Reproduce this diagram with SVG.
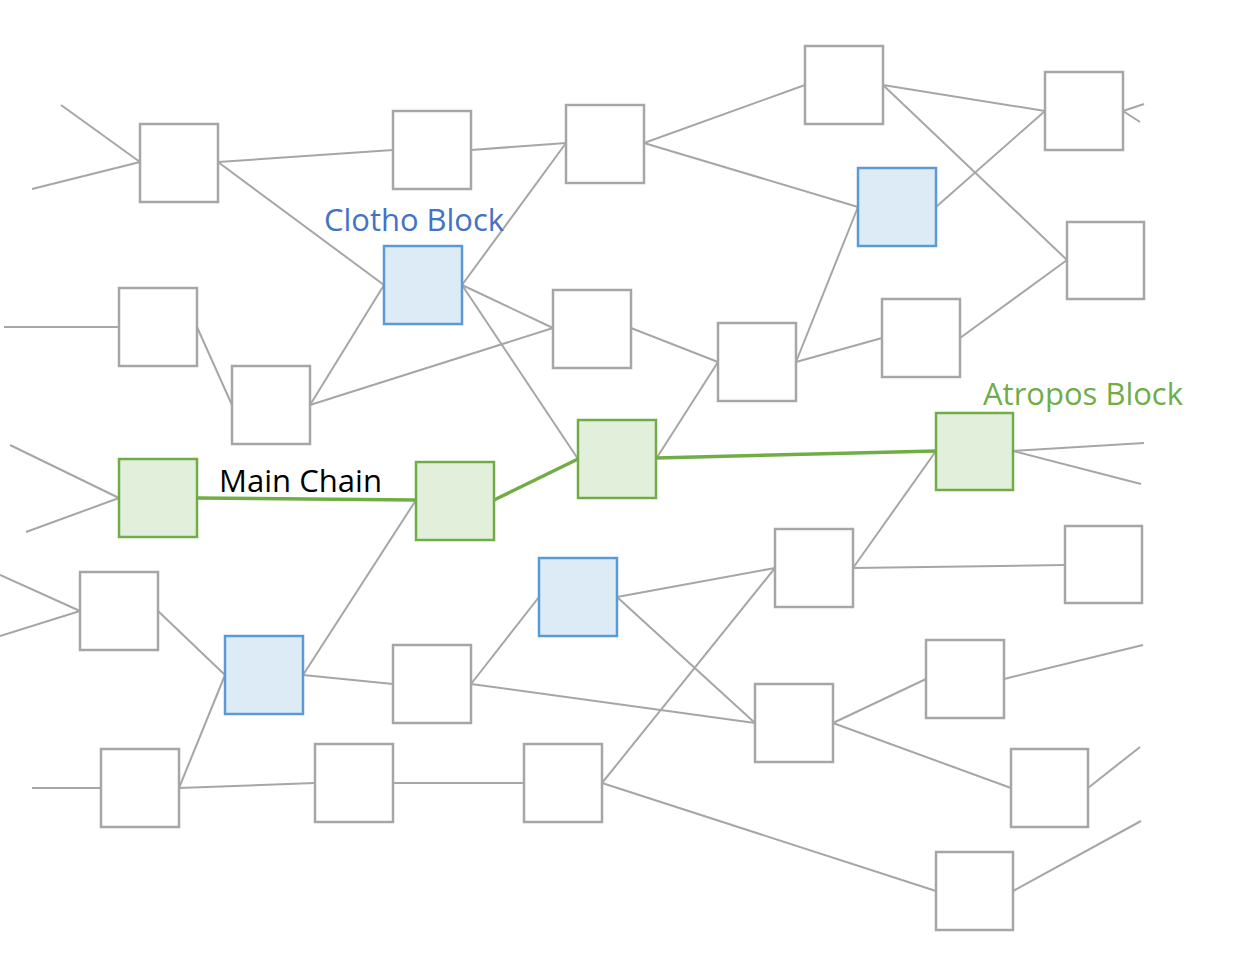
<svg xmlns="http://www.w3.org/2000/svg" width="1246" height="980" viewBox="0 0 1246 980">
<style>
.n rect{fill:#fff;stroke:#A6A6A6;stroke-width:2.5}
.b rect{fill:#DDEBF7;stroke:#5B9BD5;stroke-width:2.5}
.g rect{fill:#E2EFDA;stroke:#70AD47;stroke-width:2.5}
.e line{stroke:#A6A6A6;stroke-width:2}
.m line{stroke:#70AD47;stroke-width:3.5}
text{font-family:"Open Sans","Noto Sans","DejaVu Sans",sans-serif;font-size:31px}
</style>
<rect width="1246" height="980" fill="#fff"/>
<g id="edges" class="e">
<line x1="61" y1="105" x2="140" y2="162"/>
<line x1="32" y1="189" x2="140" y2="162"/>
<line x1="218" y1="162" x2="393" y2="150"/>
<line x1="471" y1="150" x2="566" y2="143"/>
<line x1="218" y1="162" x2="384" y2="285"/>
<line x1="644" y1="143" x2="805" y2="85"/>
<line x1="644" y1="143" x2="858" y2="207"/>
<line x1="883" y1="85" x2="1045" y2="111"/>
<line x1="883" y1="85" x2="1067" y2="260"/>
<line x1="936" y1="207" x2="1045" y2="111"/>
<line x1="1123" y1="111" x2="1144" y2="104"/>
<line x1="1123" y1="111" x2="1140" y2="122"/>
<line x1="462" y1="285" x2="566" y2="143"/>
<line x1="462" y1="285" x2="553" y2="328"/>
<line x1="462" y1="285" x2="578" y2="459"/>
<line x1="310" y1="405" x2="384" y2="285"/>
<line x1="310" y1="405" x2="553" y2="328"/>
<line x1="197" y1="327" x2="232" y2="405"/>
<line x1="4" y1="327" x2="119" y2="327"/>
<line x1="631" y1="328" x2="718" y2="362"/>
<line x1="796" y1="362" x2="858" y2="207"/>
<line x1="796" y1="362" x2="882" y2="338"/>
<line x1="960" y1="338" x2="1067" y2="260"/>
<line x1="656" y1="459" x2="718" y2="362"/>
<line x1="10" y1="445" x2="119" y2="498"/>
<line x1="26" y1="532" x2="119" y2="498"/>
<line x1="1013" y1="451" x2="1144" y2="443"/>
<line x1="1013" y1="451" x2="1141" y2="484"/>
<line x1="853" y1="568" x2="936" y2="451"/>
<line x1="853" y1="568" x2="1065" y2="565"/>
<line x1="416" y1="500" x2="303" y2="675"/>
<line x1="0" y1="575" x2="80" y2="611"/>
<line x1="0" y1="636" x2="80" y2="611"/>
<line x1="158" y1="611" x2="225" y2="675"/>
<line x1="303" y1="675" x2="393" y2="684"/>
<line x1="225" y1="675" x2="179" y2="788"/>
<line x1="32" y1="788" x2="101" y2="788"/>
<line x1="179" y1="788" x2="315" y2="783"/>
<line x1="393" y1="783" x2="524" y2="783"/>
<line x1="471" y1="684" x2="539" y2="597"/>
<line x1="471" y1="684" x2="755" y2="723"/>
<line x1="617" y1="597" x2="775" y2="568"/>
<line x1="617" y1="597" x2="755" y2="723"/>
<line x1="602" y1="783" x2="775" y2="568"/>
<line x1="602" y1="783" x2="936" y2="891"/>
<line x1="833" y1="723" x2="926" y2="679"/>
<line x1="833" y1="723" x2="1011" y2="788"/>
<line x1="1004" y1="679" x2="1143" y2="645"/>
<line x1="1088" y1="788" x2="1140" y2="747"/>
<line x1="1013" y1="891" x2="1141" y2="821"/>
</g>
<g id="mainchain" class="m">
<line x1="197" y1="498" x2="416" y2="500"/>
<line x1="494" y1="500" x2="578" y2="459"/>
<line x1="656" y1="458" x2="936" y2="451"/>
</g>
<g id="n1" class="n"><rect x="140" y="124" width="78" height="78"/></g>
<g id="n2" class="n"><rect x="393" y="111" width="78" height="78"/></g>
<g id="n3" class="n"><rect x="566" y="105" width="78" height="78"/></g>
<g id="n4" class="n"><rect x="805" y="46" width="78" height="78"/></g>
<g id="n5" class="n"><rect x="1045" y="72" width="78" height="78"/></g>
<g id="n6" class="b"><rect x="858" y="168" width="78" height="78"/></g>
<g id="n7" class="n"><rect x="1067" y="222" width="77" height="77"/></g>
<g id="n8" class="b"><rect x="384" y="246" width="78" height="78"/></g>
<g id="n9" class="n"><rect x="553" y="290" width="78" height="78"/></g>
<g id="n10" class="n"><rect x="119" y="288" width="78" height="78"/></g>
<g id="n11" class="n"><rect x="232" y="366" width="78" height="78"/></g>
<g id="n12" class="n"><rect x="718" y="323" width="78" height="78"/></g>
<g id="n13" class="n"><rect x="882" y="299" width="78" height="78"/></g>
<g id="n14" class="g"><rect x="936" y="413" width="77" height="77"/></g>
<g id="n15" class="g"><rect x="578" y="420" width="78" height="78"/></g>
<g id="n16" class="g"><rect x="416" y="462" width="78" height="78"/></g>
<g id="n17" class="g"><rect x="119" y="459" width="78" height="78"/></g>
<g id="n18" class="n"><rect x="80" y="572" width="78" height="78"/></g>
<g id="n19" class="b"><rect x="225" y="636" width="78" height="78"/></g>
<g id="n20" class="b"><rect x="539" y="558" width="78" height="78"/></g>
<g id="n21" class="n"><rect x="775" y="529" width="78" height="78"/></g>
<g id="n22" class="n"><rect x="1065" y="526" width="77" height="77"/></g>
<g id="n23" class="n"><rect x="393" y="645" width="78" height="78"/></g>
<g id="n24" class="n"><rect x="755" y="684" width="78" height="78"/></g>
<g id="n25" class="n"><rect x="926" y="640" width="78" height="78"/></g>
<g id="n26" class="n"><rect x="101" y="749" width="78" height="78"/></g>
<g id="n27" class="n"><rect x="315" y="744" width="78" height="78"/></g>
<g id="n28" class="n"><rect x="524" y="744" width="78" height="78"/></g>
<g id="n29" class="n"><rect x="1011" y="749" width="77" height="78"/></g>
<g id="n30" class="n"><rect x="936" y="852" width="77" height="78"/></g>
<g id="labels">
<text x="324" y="231" fill="#4472C4" textLength="180" lengthAdjust="spacingAndGlyphs">Clotho Block</text>
<text x="219" y="492" fill="#000" textLength="163" lengthAdjust="spacingAndGlyphs">Main Chain</text>
<text x="983" y="405" fill="#70AD47" textLength="200" lengthAdjust="spacingAndGlyphs">Atropos Block</text>
</g>
</svg>
